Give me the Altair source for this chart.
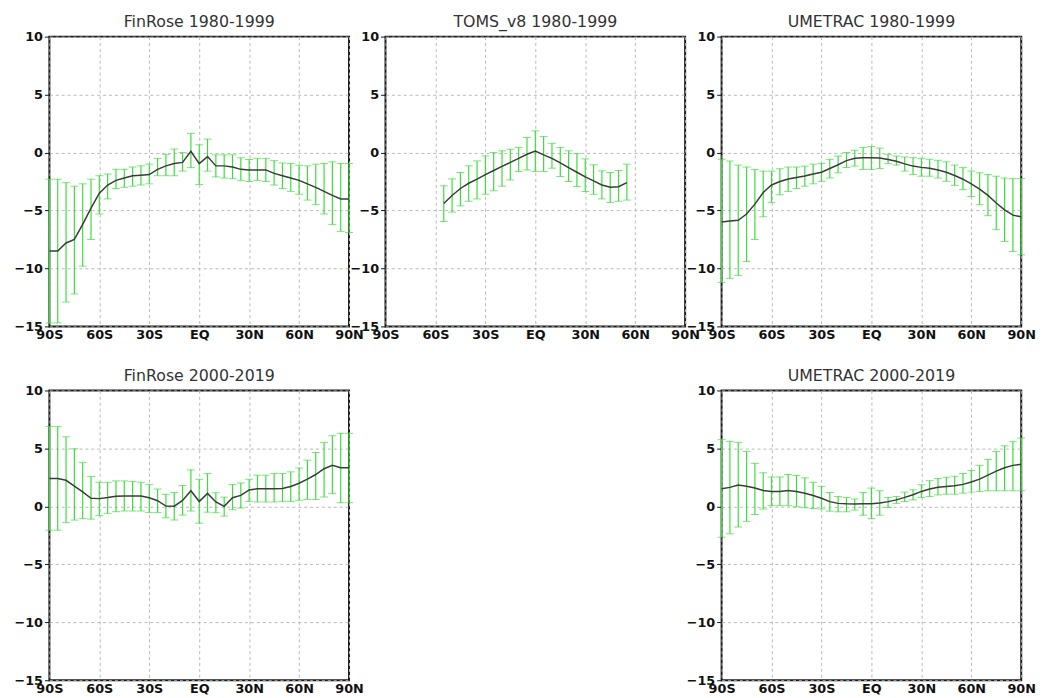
import altair as alt
import pandas as pd

# ---------------- data ----------------
lat = list(range(-90, 95, 5))
toms_lat = list(range(-55, 60, 5))

fr80_mean = [-8.5, -8.5, -7.8, -7.5, -6.2, -4.8, -3.5, -2.8, -2.4, -2.2, -2.0, -1.95, -1.9, -1.45, -1.15, -0.95, -0.85, 0.1, -0.95,
             -0.35, -1.15, -1.15, -1.25, -1.45, -1.5, -1.5, -1.5, -1.8, -2.0, -2.2, -2.4, -2.7, -3.0, -3.35, -3.7, -4.0, -4.0]
fr80_hi = [-2.3, -2.3, -2.6, -2.9, -2.7, -2.3, -2.0, -1.85, -1.45, -1.45, -1.25, -1.15, -1.0, -0.5, -0.15, 0.3, 0.0, 1.65, 0.67,
           1.16, -0.2, -0.2, -0.2, -0.45, -0.6, -0.5, -0.5, -0.7, -0.9, -0.95, -1.1, -1.15, -1.0, -0.95, -0.8, -0.95, -0.95]
fr80_lo = [-14.7, -14.7, -12.9, -12.2, -9.8, -7.5, -5.3, -4.0, -3.1, -3.0, -2.9, -2.8, -2.7, -2.0, -2.0, -2.0, -1.6, -1.3, -2.76,
           -1.6, -2.1, -2.2, -2.25, -2.4, -2.5, -2.4, -2.5, -2.8, -3.1, -3.35, -3.6, -4.1, -4.5, -5.3, -6.2, -6.8, -6.9]

toms_mean = [-4.4, -3.7, -3.1, -2.65, -2.3, -1.9, -1.55, -1.2, -0.85, -0.5, -0.15, 0.12,
             -0.2, -0.5, -0.9, -1.3, -1.7, -2.1, -2.45, -2.8, -3.0, -2.95, -2.6]
toms_hi = [-2.87, -2.27, -1.72, -1.15, -0.72, -0.29, 0.0, 0.15, 0.29, 0.43, 1.3, 1.87,
           1.38, 0.8, 0.43, 0.15, -0.1, -0.55, -1.06, -1.58, -1.72, -1.55, -1.0]
toms_lo = [-5.95, -5.14, -4.6, -4.2, -4.0, -3.6, -3.3, -2.9, -2.36, -1.64, -1.5, -1.64,
           -1.64, -1.35, -2.07, -2.5, -2.93, -3.36, -3.6, -4.0, -4.3, -4.2, -4.1]

um80_mean = [-6.0, -5.9, -5.85, -5.3, -4.45, -3.45, -2.8, -2.5, -2.28, -2.15, -2.03, -1.85, -1.7, -1.38, -1.05, -0.7, -0.5, -0.44, -0.44,
             -0.47, -0.6, -0.75, -0.98, -1.17, -1.28, -1.35, -1.5, -1.7, -1.98, -2.3, -2.7, -3.15, -3.7, -4.35, -4.95, -5.4, -5.54]
um80_hi = [-0.58, -0.73, -1.08, -1.25, -1.46, -1.6, -1.6, -1.4, -1.25, -1.25, -1.17, -1.0, -0.93, -0.58, -0.3, 0.0, 0.2, 0.44, 0.52,
           0.38, -0.15, -0.3, -0.38, -0.44, -0.5, -0.58, -0.67, -0.8, -1.08, -1.3, -1.6, -1.75, -1.9, -2.04, -2.2, -2.25, -2.25]
um80_lo = [-11.2, -10.85, -10.6, -9.4, -7.5, -5.54, -4.3, -3.64, -3.35, -3.1, -2.9, -2.7, -2.48, -2.2, -1.75, -1.3, -1.17, -1.46, -1.46,
           -1.37, -0.96, -1.08, -1.6, -1.9, -2.04, -2.04, -2.2, -2.48, -2.83, -3.2, -3.8, -4.5, -5.45, -6.65, -7.67, -8.54, -8.83]

fr00_mean = [2.4, 2.4, 2.25, 1.75, 1.25, 0.7, 0.67, 0.76, 0.88, 0.9, 0.9, 0.9, 0.75, 0.49, 0.03, 0.02, 0.52, 1.35, 0.42,
             1.12, 0.38, 0.0, 0.75, 0.95, 1.42, 1.52, 1.52, 1.52, 1.55, 1.72, 2.0, 2.35, 2.75, 3.25, 3.55, 3.33, 3.33]
fr00_hi = [6.9, 6.9, 6.0, 4.97, 3.8, 2.57, 2.08, 2.08, 2.2, 2.2, 2.14, 2.08, 1.9, 1.5, 1.04, 1.2, 1.8, 3.15, 2.34,
           2.83, 1.18, 0.8, 1.88, 2.02, 2.34, 2.69, 2.69, 2.83, 2.83, 2.98, 3.32, 3.99, 4.65, 5.52, 6.1, 6.3, 6.3]
fr00_lo = [-2.05, -2.05, -1.4, -1.18, -1.04, -1.1, -0.8, -0.6, -0.46, -0.4, -0.4, -0.4, -0.52, -0.52, -0.98, -1.18, -0.75, -0.4, -1.45,
           -0.5, -0.55, -0.84, -0.29, -0.14, 0.43, 0.38, 0.38, 0.38, 0.43, 0.43, 0.52, 0.6, 0.6, 0.81, 1.1, 0.32, 0.32]

um00_mean = [1.52, 1.64, 1.85, 1.73, 1.58, 1.37, 1.29, 1.29, 1.37, 1.29, 1.14, 0.94, 0.7, 0.41, 0.26, 0.22, 0.2, 0.22, 0.23,
             0.29, 0.41, 0.56, 0.78, 1.0, 1.29, 1.5, 1.65, 1.72, 1.78, 1.9, 2.1, 2.35, 2.69, 3.04, 3.33, 3.54, 3.63]
um00_hi = [5.76, 5.61, 5.53, 4.74, 3.71, 2.9, 2.54, 2.54, 2.75, 2.66, 2.46, 2.08, 1.73, 1.2, 0.85, 0.76, 0.64, 1.2, 1.58,
           1.35, 0.76, 0.85, 1.23, 1.43, 1.87, 2.22, 2.4, 2.51, 2.6, 2.84, 3.1, 3.54, 4.06, 4.74, 5.23, 5.58, 5.9]
um00_lo = [-2.66, -2.37, -1.78, -1.29, -0.7, -0.23, 0.06, 0.06, 0.06, -0.03, -0.12, -0.18, -0.23, -0.41, -0.47, -0.47, -0.32, -0.76, -1.05,
           -0.76, -0.09, 0.26, 0.41, 0.56, 0.76, 0.85, 0.99, 1.05, 1.05, 1.14, 1.23, 1.29, 1.35, 1.35, 1.35, 1.35, 1.35]

x_ticks = [-90, -60, -30, 0, 30, 60, 90]
y_ticks = [-15, -10, -5, 0, 5, 10]

# ---------------- styling ----------------
GREEN = "#3ddc3d"
LINE = "#3a3a3a"
W, H = 304, 294

xaxis = alt.Axis(values=x_ticks, ticks=False, labelPadding=2, labelOverlap=False, labelFlush=False,
                 labelExpr="datum.value == 0 ? 'EQ' : (datum.value < 0 ? toString(-datum.value) + 'S' : toString(datum.value) + 'N')")
yaxis = alt.Axis(values=y_ticks, tickSize=5, labelPadding=2, labelOverlap=False, labelFlush=False,
                 labelExpr="datum.value < 0 ? '\u2212' + toString(-datum.value) : toString(datum.value)")
xscale = alt.Scale(domain=[-90, 90], nice=False, zero=False)
yscale = alt.Scale(domain=[-15, 10], nice=False, zero=False)


def panel(title, lats, mean, hi, lo):
    df = pd.DataFrame({"lat": lats, "mean": mean, "hi": hi, "lo": lo})
    x = alt.X("lat:Q", scale=xscale, axis=xaxis, title=None)
    base = alt.Chart(df)
    bars = base.mark_rule(color=GREEN, strokeWidth=1.2).encode(
        x=x, y=alt.Y("lo:Q", scale=yscale, axis=yaxis, title=None), y2="hi:Q")
    cap_hi = base.mark_tick(color=GREEN, orient="horizontal", size=8, thickness=1).encode(
        x=x, y=alt.Y("hi:Q", scale=yscale, axis=yaxis, title=None))
    cap_lo = base.mark_tick(color=GREEN, orient="horizontal", size=8, thickness=1).encode(
        x=x, y=alt.Y("lo:Q", scale=yscale, axis=yaxis, title=None))
    line = base.mark_line(color=LINE, strokeWidth=1.5).encode(
        x=x, y=alt.Y("mean:Q", scale=yscale, axis=yaxis, title=None))
    return alt.layer(bars, cap_hi, cap_lo, line).properties(
        width=W, height=H,
        title=alt.TitleParams(title, anchor="middle", offset=1),
    )


p1 = panel("FinRose  1980-1999", lat, fr80_mean, fr80_hi, fr80_lo)
p2 = panel("TOMS_v8  1980-1999", toms_lat, toms_mean, toms_hi, toms_lo)
p3 = panel("UMETRAC  1980-1999", lat, um80_mean, um80_hi, um80_lo)
p4 = panel("FinRose  2000-2019", lat, fr00_mean, fr00_hi, fr00_lo)
p5 = panel("UMETRAC  2000-2019", lat, um00_mean, um00_hi, um00_lo)

blank = alt.Chart(pd.DataFrame({"a": [0]})).mark_point(opacity=0).encode(
    x=alt.X("a:Q", axis=None), y=alt.Y("a:Q", axis=None)
).properties(width=W, height=H, view=alt.ViewBackground(stroke="transparent"))

chart = alt.concat(
    p1, p2, p3, p4, blank, p5,
    columns=3,
    spacing=alt.RowColnumber(row=65, column=37),
    bounds="flush",
).properties(
    padding={"left": 5, "top": 0, "right": 0, "bottom": 0},
    background="white",
).configure_view(
    stroke="#1a1a1a", strokeWidth=2
).configure_axis(
    grid=True, gridColor="#b8b8b8", gridDash=[3, 3], gridWidth=1,
    domain=False, labelFont="DejaVu Sans", labelFontSize=13, labelFontWeight="bold",
    labelColor="#111", tickColor="#111",
).configure_title(
    font="DejaVu Sans", fontSize=16, fontWeight="normal", color="#333",
)

chart.save("out.html", embed_options={"renderer": "svg", "actions": False})
